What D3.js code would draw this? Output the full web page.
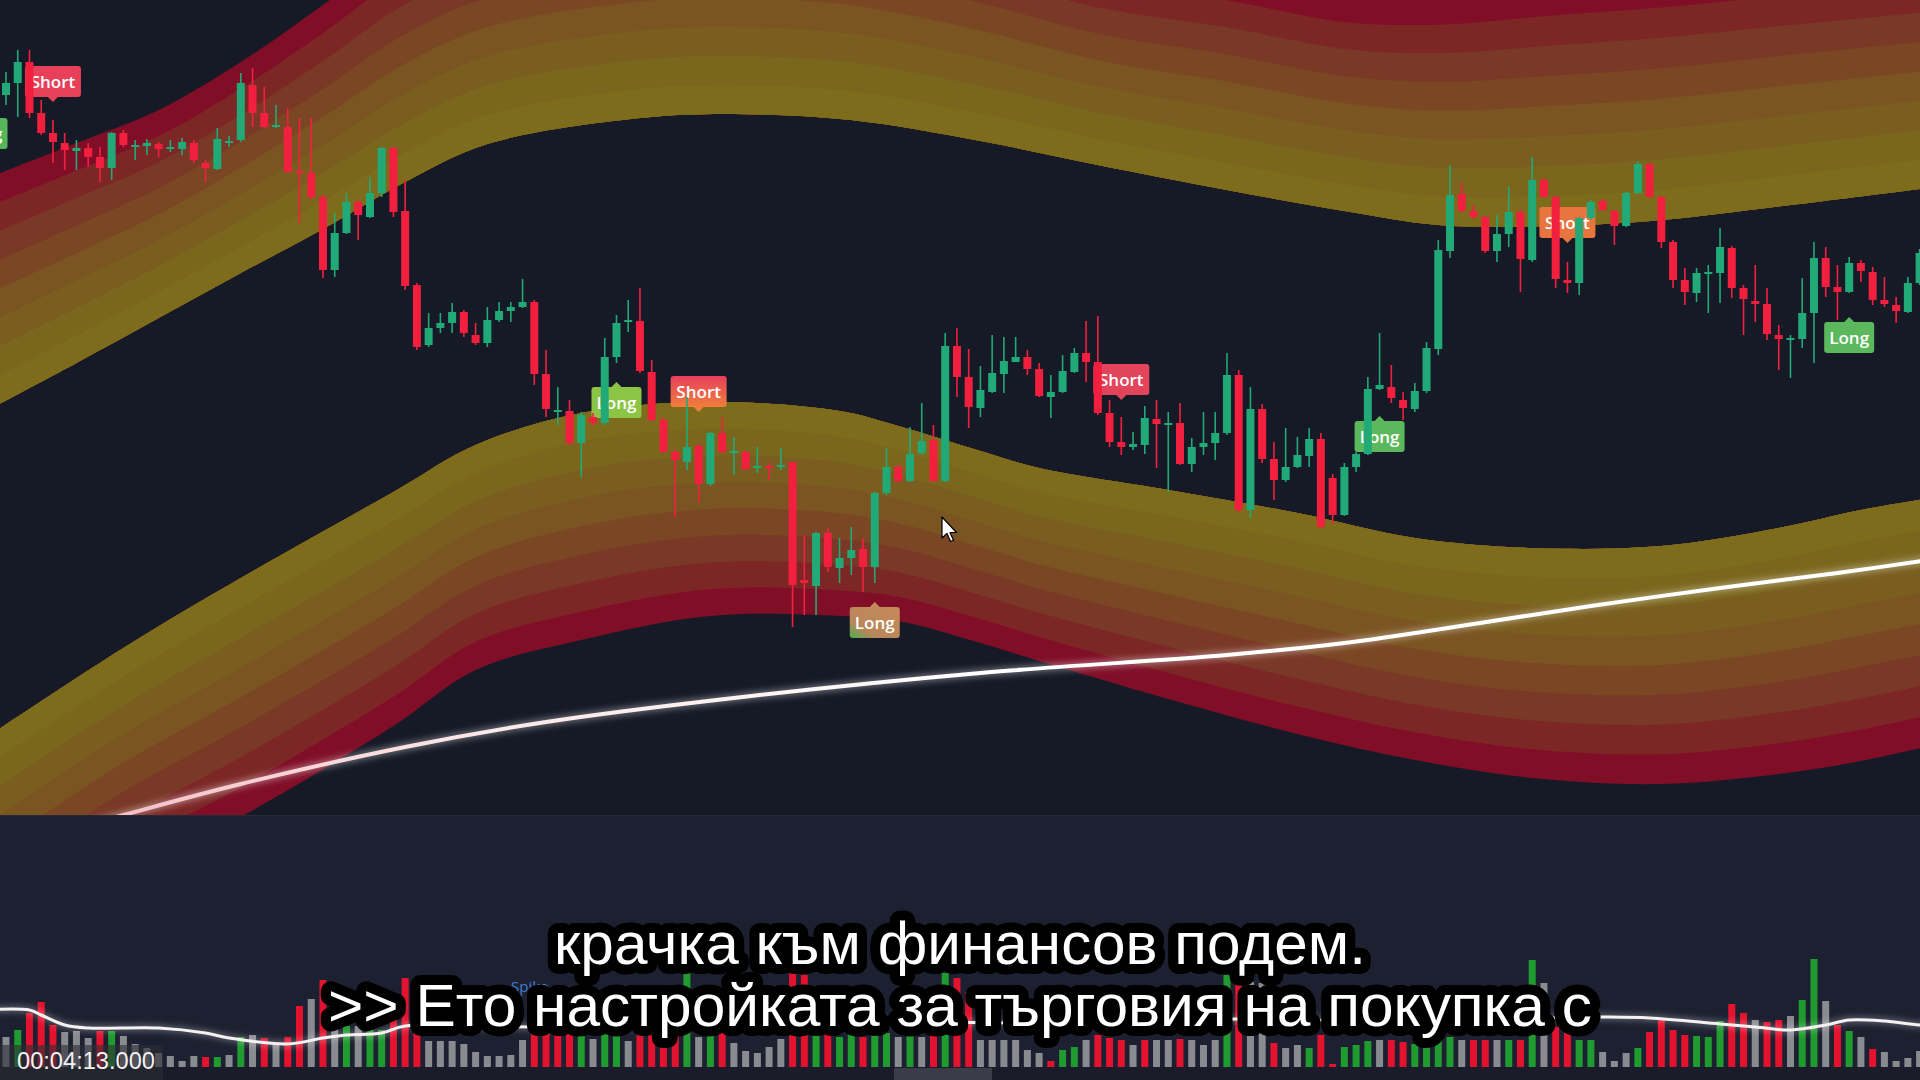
<!DOCTYPE html>
<html><head><meta charset="utf-8">
<script src="https://cdn.jsdelivr.net/npm/d3@7"></script>
<style>html,body{margin:0;padding:0;background:#161a27;overflow:hidden}svg{display:block}</style>
</head><body>
<svg id="chart" width="1920" height="1080"></svg>
<script>
// ---------------- DATA ----------------
const open = [985,997,1018,967,947,937,929,932,923,912,947,934,934,936,932,931,937,917,911,937,
940,995,967,953,953,909,907,883,810,847,878,863,887,932,869,795,735,752,757,768,
745,737,760,769,773,778,706,668,669,637,663,657,723,758,759,708,660,628,618,634,
596,647,627,628,612,614,613,618,500,494,547,512,522,531,513,587,613,599,627,640,
599,734,703,672,688,706,718,723,711,683,688,708,727,718,667,638,633,635,661,656,
657,616,633,637,647,705,570,671,621,600,613,624,641,602,565,613,626,691,693,680,
671,689,731,829,886,869,863,829,846,868,820,900,883,800,797,862,879,869,854,887,
916,883,838,800,787,806,807,832,792,779,776,745,740,741,767,822,793,788,817,808,
780,775,768,797];
const high = [1008,1030,1030,980,960,947,940,937,933,948,950,940,941,938,940,942,940,920,952,944,
1007,1012,993,975,972,962,962,885,867,887,880,903,933,933,900,797,767,767,777,770,
757,773,778,778,801,780,730,693,680,668,667,742,765,780,792,720,663,630,683,637,
648,663,643,630,633,617,632,618,545,548,552,542,553,542,588,632,615,653,677,655,
747,752,731,714,745,743,743,730,717,705,725,732,759,764,680,663,648,674,680,668,
677,642,668,668,727,710,693,676,638,652,643,652,647,606,617,628,703,747,715,688,
697,738,840,915,897,875,864,865,893,870,923,902,884,818,863,880,881,870,888,919,
917,884,840,812,812,815,852,834,795,815,792,755,745,802,838,833,815,823,820,813,
803,783,803,831];
const low = [975,963,962,945,917,910,910,913,898,900,933,920,925,923,928,925,917,898,910,933,
938,953,952,952,907,857,880,802,803,846,840,862,883,863,790,730,733,747,747,743,
735,733,758,758,772,695,663,655,635,603,655,655,717,748,707,658,627,563,610,578,
594,627,605,610,607,600,610,453,465,465,508,497,505,488,497,585,597,598,625,598,
598,683,652,663,687,687,718,705,683,662,687,707,698,665,633,625,630,626,612,588,
615,608,625,620,645,568,562,617,580,598,612,613,552,556,564,608,625,690,677,660,
668,687,725,822,868,861,827,818,833,788,818,882,792,787,785,860,869,835,853,886,
882,832,792,775,778,767,777,782,745,758,740,710,702,732,717,783,760,787,798,775,
773,757,767,795];
const close = [997,1018,967,947,938,930,932,923,912,947,935,935,937,931,933,938,920,912,941,939,
997,967,953,955,908,907,883,810,847,878,865,887,932,868,794,733,752,757,768,747,
737,760,769,773,778,706,671,670,637,665,657,723,757,760,709,660,628,620,633,596,
647,628,629,611,614,612,615,495,497,547,513,522,530,513,587,613,599,626,639,599,
734,703,673,690,707,719,723,711,684,688,709,727,718,667,638,633,636,662,656,657,
616,633,637,647,705,570,671,621,600,613,625,641,553,565,613,626,691,695,682,672,
689,732,830,885,869,863,829,846,868,821,900,883,801,797,862,878,870,854,887,916,
883,838,800,788,807,808,833,792,781,776,746,741,742,767,822,793,788,817,809,780,
776,769,797,827];

const volume = [30,37,54,65,42,35,36,29,36,36,31,23,19,14,11,6,11,10,10,12,
30,32,29,24,30,61,68,87,46,41,41,37,37,51,89,42,26,26,26,23,
15,11,11,12,27,34,38,34,36,32,28,40,38,26,40,36,32,34,94,30,
38,34,24,16,14,20,28,94,92,40,36,30,32,30,44,34,30,34,30,40,
94,89,75,27,27,27,27,17,14,6,17,20,27,32,29,27,22,27,27,27,
28,27,22,27,92,84,85,84,24,19,22,19,32,3,20,22,26,27,27,25,
23,25,35,30,27,27,27,27,27,27,107,84,40,34,27,27,15,6,14,19,
35,47,37,32,31,30,46,63,54,47,45,47,51,67,108,66,42,36,30,18,
15,6,9,16];
const volumeDir = ["n","u","d","d","d","n","n","n","d","u","n","n","n","n","n","n","n","d","u","n",
"u","n","d","n","d","d","n","d","n","u","n","u","u","d","d","d","n","n","n","n",
"n","n","n","n","n","d","d","d","d","u","n","u","u","n","d","d","d","d","u","n",
"u","d","n","n","n","n","n","d","d","u","d","u","u","d","u","u","n","u","n","d",
"u","d","d","n","n","n","n","n","n","d","u","u","n","d","d","d","n","d","n","n",
"d","n","n","n","u","d","n","n","d","n","n","u","d","d","u","u","u","n","d","d",
"u","u","u","u","n","d","d","n","u","d","u","n","d","d","u","u","n","n","n","u",
"d","d","d","d","u","u","u","d","d","n","d","d","n","u","u","n","d","u","n","d",
"n","n","n","n"];

// price moving average (white line) sample points
const maK = [-2,10,20,34,46,62,83,104,114,125,135,146,156,165];
const maV = [226,265,296,333,358,382,407,425,437,456,474,492,507,522];

// volume moving average
const volMaK = [-2,2,3,5,7,13,17,19,24,27,29,32,34,45,60,75,90,105,120,134,136,140,146,149,152,155,157,160,163,165];
const volMaV = [57,57,52,42,39,39,34,29,23,29,32,34,41,40,42,45,44,48,45,50,50,49,43,40,37,42,47,46,42,42];

// upper envelope band (inner = yellow edge, outer = red edge)
const upperK = [-2,6,13,20,27,34,41,54,62,72,83,93,104,114,122,132,141,152,165];
const upperInner = [667,717,762,807,851,898,936,962,966,960,939,915,890,869,855,854,860,875,894];
const upperOuter = [900,937,970,1018,1075,1135,1170,1195,1198,1190,1160,1125,1107,1085,1084,1095,1103,1115,1128];

// lower envelope band
const lowerK = [-2,10,20,33,40,49,60,71,76,83,88,99,110,120,130,141,151,158,165];
const lowerInner = [340,432,502,588,635,667,678,669,654,629,612,590,567,542,532,534,552,570,584];
const lowerOuter = [109,202,263,354,410,440,464,464,459,437,419,381,346,320,302,296,306,319,337];

// signal labels
const signalK = [4,-2,52,59,74,95,117,133,157];
const signalType = ["Short","Long","Long","Short","Long","Short","Long","Short","Long"];
const signalPrice = [978,966,697,668,477,680,663,837,762];
const signalStyle = ["#e9405a","#57b65b","#8cc545","url(#gD)","url(#gE)","#e2445c","#5cb85c","#e8743e","#5cb85c"];

const subtitleLines = ["крачка към финансов подем.", ">> Ето настройката за търговия на покупка с"];
const timestamp = "00:04:13.000";

// ---------------- DRAW ----------------
const svg = d3.select("#chart");
const W = 1920, H = 1080, paneBottom = 815, volBase = 1067;

const defs = svg.append("defs");
defs.append("clipPath").attr("id","mainClip").append("rect").attr("x",0).attr("y",0).attr("width",W).attr("height",paneBottom);
const gD = defs.append("linearGradient").attr("id","gD").attr("x1",0).attr("y1",0).attr("x2",0).attr("y2",1);
gD.append("stop").attr("offset","0%").attr("stop-color","#e8405c");
gD.append("stop").attr("offset","100%").attr("stop-color","#ef7e3c");
const gE = defs.append("linearGradient").attr("id","gE").attr("x1",0).attr("y1",1).attr("x2",1).attr("y2",0);
gE.append("stop").attr("offset","0%").attr("stop-color","#4caf50");
gE.append("stop").attr("offset","28%").attr("stop-color","#b8875a");
gE.append("stop").attr("offset","100%").attr("stop-color","#c68a58");
const gMA = defs.append("linearGradient").attr("id","gMA").attr("gradientUnits","userSpaceOnUse")
  .attr("x1",0).attr("y1",0).attr("x2",1000).attr("y2",0);
gMA.append("stop").attr("offset","0%").attr("stop-color","#f3b3bd");
gMA.append("stop").attr("offset","45%").attr("stop-color","#fbe6e6");
gMA.append("stop").attr("offset","100%").attr("stop-color","#ffffff");
const blur = defs.append("filter").attr("id","glow").attr("x","-5%").attr("y","-50%").attr("width","110%").attr("height","200%");
blur.append("feGaussianBlur").attr("stdDeviation",3);

// backgrounds
svg.append("rect").attr("x",0).attr("y",0).attr("width",W).attr("height",paneBottom).attr("fill","#161a27");
svg.append("rect").attr("x",0).attr("y",paneBottom).attr("width",W).attr("height",H-paneBottom).attr("fill","#1d2030");
svg.append("rect").attr("x",0).attr("y",volBase).attr("width",W).attr("height",H-volBase).attr("fill","#1a1d29");
svg.append("rect").attr("x",894).attr("y",volBase+1).attr("width",98).attr("height",H-volBase).attr("fill","#3a3d49");

const x = d3.scaleLinear().domain([0,163]).range([6, 6+163*11.74]);
const y = d3.scaleLinear().domain([265,1080]).range([paneBottom,0]);
const yV = d3.scaleLinear().domain([0,120]).range([volBase, volBase-120]);

const main = svg.append("g").attr("clip-path","url(#mainClip)");

// bands
const layerColors = ["#7d6c1c","#7b661d","#7a5e1f","#7a5421","#7a4623","#7a3826","#7c2626","#800e27"];
const N = layerColors.length;
function drawBand(ks, inner, outer){
  const pts = ks.map((k,i)=>({k, a: inner[i], b: outer[i]}));
  for(let i=N-1;i>=0;i--){
    const t = (i+1)/N;
    const area = d3.area().curve(d3.curveCatmullRom)
      .x(d=>x(d.k)).y0(d=>y(d.a)).y1(d=>y(d.a + (d.b-d.a)*t));
    main.append("path").attr("d",area(pts)).attr("fill",layerColors[i]);
  }
}
drawBand(upperK, upperInner, upperOuter);
drawBand(lowerK, lowerInner, lowerOuter);

// price MA
const maPts = maK.map((k,i)=>({k,v:maV[i]}));
const maLine = d3.line().curve(d3.curveCatmullRom).x(d=>x(d.k)).y(d=>y(d.v));
main.append("path").attr("d",maLine(maPts)).attr("fill","none").attr("stroke","#ffffff").attr("stroke-opacity",0.35).attr("stroke-width",8).attr("filter","url(#glow)");
main.append("path").attr("d",maLine(maPts)).attr("fill","none").attr("stroke","url(#gMA)").attr("stroke-width",4);

// signal labels (drawn under candles)
const labels = main.append("g");
signalK.forEach((k,i)=>{
  const isShort = signalType[i]==="Short";
  const cx = x(k), tip = y(signalPrice[i]);
  const w = isShort ? 56 : 50, h = 31;
  const top = isShort ? tip - 5 - h : tip + 4;
  const g = labels.append("g");
  g.append("rect").attr("x",cx-w/2).attr("y",top).attr("width",w).attr("height",h).attr("rx",3).attr("fill",signalStyle[i]);
  const tri = isShort ? `M${cx-5},${top+h} L${cx+5},${top+h} L${cx},${top+h+5} Z` : `M${cx-5},${top} L${cx+5},${top} L${cx},${top-5} Z`;
  g.append("path").attr("d",tri).attr("fill", isShort ? (i===3?"#ef7e3c":signalStyle[i]) : (i===4?"#c68a58":signalStyle[i]));
  g.append("text").attr("x",cx).attr("y",top+h/2+6).attr("text-anchor","middle")
    .attr("font-family","'Open Sans', 'DejaVu Sans', sans-serif").attr("font-weight",600).attr("font-size",17)
    .attr("fill","#ffffff").text(signalType[i]);
});

// candles
const up = "#21aa78", dn = "#f2203e";
const candles = main.append("g");
open.forEach((o,i)=>{
  const c = close[i], isUp = c >= o, col = isUp ? up : dn;
  const cx = x(i);
  candles.append("line").attr("x1",cx).attr("x2",cx).attr("y1",y(high[i])).attr("y2",y(low[i]))
    .attr("stroke",col).attr("stroke-width",1.6);
  const yt = y(Math.max(o,c)), yb = y(Math.min(o,c));
  candles.append("rect").attr("x",cx-4).attr("y",yt).attr("width",8).attr("height",Math.max(2,yb-yt)).attr("fill",col);
});

// cursor
svg.append("path").attr("transform","translate(942,517)")
  .attr("d","M0,0 L0,21 L5,16.5 L8.5,24.5 L11.5,23.2 L8,15.5 L14.5,15.5 Z")
  .attr("fill","#ffffff").attr("stroke","#000000").attr("stroke-width",1.2).attr("stroke-linejoin","round");

// separator
svg.append("line").attr("x1",0).attr("x2",W).attr("y1",paneBottom+0.5).attr("y2",paneBottom+0.5).attr("stroke","#262a38").attr("stroke-width",1);

// volume bars
const volCol = {u:"#1f9b2f", d:"#e3132f", n:"#8a8b91"};
const vol = svg.append("g");
volume.forEach((v,i)=>{
  vol.append("rect").attr("x",x(i)-3.5).attr("y",yV(v)).attr("width",7).attr("height",volBase-yV(v)).attr("fill",volCol[volumeDir[i]]);
});
const vmaPts = volMaK.map((k,i)=>({k,v:volMaV[i]}));
const vmaLine = d3.line().curve(d3.curveCatmullRom).x(d=>x(d.k)).y(d=>yV(d.v));
svg.append("path").attr("d",vmaLine(vmaPts)).attr("fill","none").attr("stroke","#ffffff").attr("stroke-opacity",0.3).attr("stroke-width",6).attr("filter","url(#glow)");
svg.append("path").attr("d",vmaLine(vmaPts)).attr("fill","none").attr("stroke","#f6f1f1").attr("stroke-width",3);

svg.append("text").attr("x",511).attr("y",992).attr("font-family","'Open Sans', sans-serif").attr("font-size",15)
  .attr("fill","#3f7fd0").text("Spike");

// timestamp
svg.append("rect").attr("x",0).attr("y",1045).attr("width",163).attr("height",35).attr("fill","#2c2d33").attr("fill-opacity",0.6);
svg.append("text").attr("x",17).attr("y",1069).attr("font-family","'Liberation Sans', Arial, sans-serif").attr("font-size",23)
  .attr("fill","#f2f2f2").attr("textLength",138).attr("lengthAdjust","spacingAndGlyphs").text(timestamp);

// subtitles
const subBase = [964, 1026], subLen = [812, 1264];
subtitleLines.forEach((t,i)=>{
  svg.append("text").attr("x",960).attr("y",subBase[i]).attr("text-anchor","middle")
    .attr("font-family","'Liberation Sans', Arial, sans-serif").attr("font-size",59)
    .attr("textLength",subLen[i]).attr("lengthAdjust","spacingAndGlyphs")
    .attr("fill","#ffffff").attr("stroke","#000000").attr("stroke-width",20).attr("stroke-linejoin","round")
    .attr("paint-order","stroke fill").text(t);
});
</script>
</body></html>
